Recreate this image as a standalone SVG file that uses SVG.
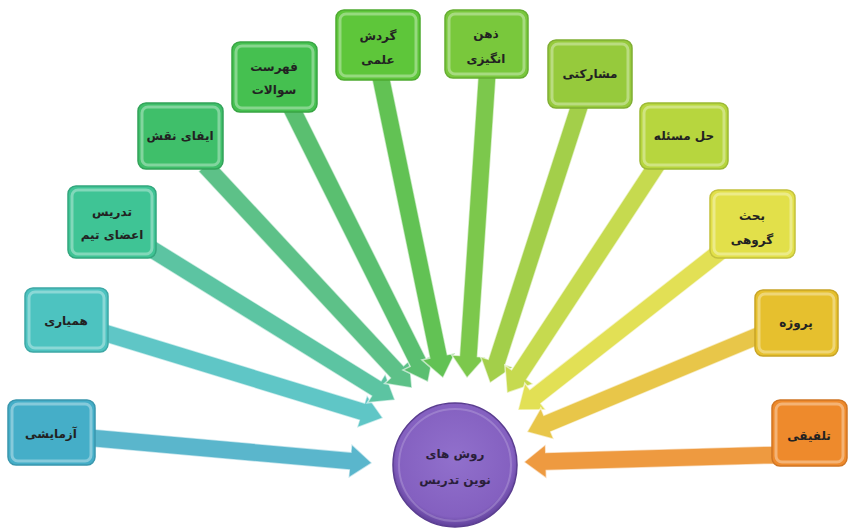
<svg xmlns="http://www.w3.org/2000/svg" width="851" height="529" viewBox="0 0 851 529">
<defs>
<style>
.box{stroke-width:1.5}
.hl{fill:none;stroke:#ffffff;stroke-opacity:0.35;stroke-width:3}
.arr{stroke:#ffffff;stroke-opacity:0.6;stroke-width:1.5}
.t{font-family:"DejaVu Sans",sans-serif;font-size:12px;font-weight:bold;fill:#222222;text-anchor:middle}
.ct{font-family:"DejaVu Sans",sans-serif;font-size:12px;font-weight:bold;fill:#2a1f3a;text-anchor:middle}
</style>
<radialGradient id="cg" cx="50%" cy="45%" r="55%">
<stop offset="0" stop-color="#9170cc"/>
<stop offset="0.85" stop-color="#8460c0"/>
<stop offset="1" stop-color="#5e3f98"/>
</radialGradient>
</defs>
<rect width="851" height="529" fill="#ffffff"/>
<g id="connectors">
<path class="arr" fill="#5ab6cc" transform="translate(372,463) rotate(5.1)" d="M-281,-9 L-22,-9 L-22,-17 L0,0 L-22,17 L-22,9 L-281,9 Z"/>
<path class="arr" fill="#5fc6c6" transform="translate(383,418) rotate(17)" d="M-291,-9 L-22,-9 L-22,-17 L0,0 L-22,17 L-22,9 L-291,9 Z"/>
<path class="arr" fill="#5cc4a2" transform="translate(395,400) rotate(31.8)" d="M-294,-9 L-22,-9 L-22,-17 L0,0 L-22,17 L-22,9 L-294,9 Z"/>
<path class="arr" fill="#5dc188" transform="translate(412,388) rotate(47.1)" d="M-304,-9 L-22,-9 L-22,-17 L0,0 L-22,17 L-22,9 L-304,9 Z"/>
<path class="arr" fill="#5abf70" transform="translate(428,382) rotate(63.5)" d="M-309,-9 L-22,-9 L-22,-17 L0,0 L-22,17 L-22,9 L-309,9 Z"/>
<path class="arr" fill="#62c254" transform="translate(443,378) rotate(78.3)" d="M-309,-9 L-22,-9 L-22,-17 L0,0 L-22,17 L-22,9 L-309,9 Z"/>
<path class="arr" fill="#7cc84c" transform="translate(467,378) rotate(93.8)" d="M-304,-9 L-22,-9 L-22,-17 L0,0 L-22,17 L-22,9 L-304,9 Z"/>
<path class="arr" fill="#a3cf4a" transform="translate(490,383) rotate(107.9)" d="M-292,-9 L-22,-9 L-22,-17 L0,0 L-22,17 L-22,9 L-292,9 Z"/>
<path class="arr" fill="#c6da4f" transform="translate(507,393) rotate(123.3)" d="M-279,-9 L-22,-9 L-22,-17 L0,0 L-22,17 L-22,9 L-279,9 Z"/>
<path class="arr" fill="#e2e055" transform="translate(518,410) rotate(141.9)" d="M-259,-9 L-22,-9 L-22,-17 L0,0 L-22,17 L-22,9 L-259,9 Z"/>
<path class="arr" fill="#e8c649" transform="translate(527,432) rotate(157.4)" d="M-252,-9 L-22,-9 L-22,-17 L0,0 L-22,17 L-22,9 L-252,9 Z"/>
<path class="arr" fill="#ee9a40" transform="translate(524,462) rotate(178.4)" d="M-252,-9 L-22,-9 L-22,-17 L0,0 L-22,17 L-22,9 L-252,9 Z"/>
</g>
<g id="n1"><rect class="box" x="8" y="400" width="87" height="65" rx="8" fill="#45aec8" stroke="#3a97ad"/><rect class="hl" x="12" y="404" width="79" height="57" rx="6"/><text class="t" x="51" y="438">آزمایشی</text></g>
<g id="n2"><rect class="box" x="25" y="288" width="83" height="64" rx="8" fill="#4dc3c0" stroke="#3ea8a5"/><rect class="hl" x="29" y="292" width="75" height="56" rx="6"/><text class="t" x="66" y="325">همیاری</text></g>
<g id="n3"><rect class="box" x="68" y="186" width="88" height="72" rx="8" fill="#3fc495" stroke="#33a67d"/><rect class="hl" x="72" y="190" width="80" height="64" rx="6"/><text class="t" x="112" y="216">تدریس</text><text class="t" x="112" y="239">اعضای تیم</text></g>
<g id="n4"><rect class="box" x="138" y="103" width="85" height="66" rx="8" fill="#3fbf6a" stroke="#33a35a"/><rect class="hl" x="142" y="107" width="77" height="58" rx="6"/><text class="t" x="180" y="140">ایفای نقش</text></g>
<g id="n5"><rect class="box" x="232" y="42" width="85" height="70" rx="8" fill="#45c050" stroke="#38a543"/><rect class="hl" x="236" y="46" width="77" height="62" rx="6"/><text class="t" x="274" y="71">فهرست</text><text class="t" x="274" y="94">سوالات</text></g>
<g id="n6"><rect class="box" x="336" y="10" width="84" height="70" rx="8" fill="#5ec63a" stroke="#4eab30"/><rect class="hl" x="340" y="14" width="76" height="62" rx="6"/><text class="t" x="378" y="40">گردش</text><text class="t" x="378" y="64">علمی</text></g>
<g id="n7"><rect class="box" x="445" y="10" width="83" height="68" rx="8" fill="#79c83c" stroke="#66ad32"/><rect class="hl" x="449" y="14" width="75" height="60" rx="6"/><text class="t" x="486" y="38">ذهن</text><text class="t" x="486" y="63">انگیزی</text></g>
<g id="n8"><rect class="box" x="548" y="40" width="84" height="68" rx="8" fill="#96ca3c" stroke="#80ae33"/><rect class="hl" x="552" y="44" width="76" height="60" rx="6"/><text class="t" x="590" y="78">مشارکتی</text></g>
<g id="n9"><rect class="box" x="640" y="103" width="88" height="66" rx="8" fill="#b7d63e" stroke="#9cb935"/><rect class="hl" x="644" y="107" width="80" height="58" rx="6"/><text class="t" x="684" y="140">حل مسئله</text></g>
<g id="n10"><rect class="box" x="710" y="190" width="85" height="68" rx="8" fill="#e2e04a" stroke="#c3c13d"/><rect class="hl" x="714" y="194" width="77" height="60" rx="6"/><text class="t" x="752" y="220">بحث</text><text class="t" x="752" y="244">گروهی</text></g>
<g id="n11"><rect class="box" x="755" y="290" width="83" height="66" rx="8" fill="#e6c02e" stroke="#c8a426"/><rect class="hl" x="759" y="294" width="75" height="58" rx="6"/><text class="t" x="796" y="327">پروژه</text></g>
<g id="n12"><rect class="box" x="772" y="400" width="75" height="66" rx="8" fill="#ee8a2c" stroke="#d07624"/><rect class="hl" x="776" y="404" width="67" height="58" rx="6"/><text class="t" x="809" y="440">تلفیقی</text></g>
<g id="center"><circle cx="455" cy="465" r="62" fill="url(#cg)" stroke="#5a3d90" stroke-width="1.5"/><circle cx="455" cy="465" r="56" fill="none" stroke="#ffffff" stroke-opacity="0.18" stroke-width="2"/><text class="ct" x="455" y="458">روش های</text><text class="ct" x="455" y="484">نوین تدریس</text></g>
</svg>
